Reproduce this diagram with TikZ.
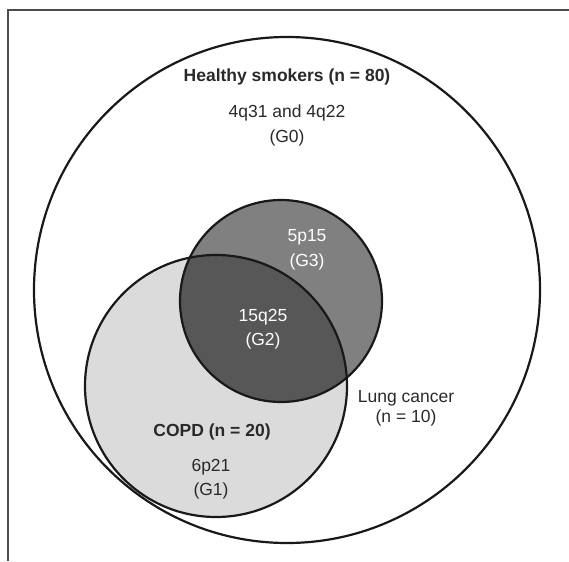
\documentclass[tikz,border=0pt]{standalone}
\usepackage{fontspec}
\setmainfont{Liberation Sans}
\definecolor{copdgray}{gray}{0.86}
\definecolor{lcgray}{gray}{0.50}
\definecolor{bothgray}{gray}{0.34}
\definecolor{txtgray}{gray}{0.16}
\tikzset{
  ring/.style={line width=2.2pt, draw=black!90},
  label/.style={font=\fontsize{17.5}{21}\selectfont, text=txtgray, inner sep=0pt, align=center},
  boldlabel/.style={label, font=\fontsize{17.5}{21}\selectfont\bfseries},
  whitelabel/.style={label, text=white}
}
\begin{document}
\begin{tikzpicture}[x=1pt, y=-1pt]
    \useasboundingbox (0,0) rectangle (569,561);

    % Frame
    \draw[line width=1.3pt, black!70] (8,561) -- (8,10) -- (569,10);

    % Fills
    \fill[copdgray] (216,386) circle (131);
    \fill[lcgray] (281,301) circle (101);
    \begin{scope}
        \clip (216,386) circle (131);
        \fill[bothgray] (281,301) circle (101);
    \end{scope}

    % Circles
    \draw[ring] (287,290) circle (253);
    \draw[ring] (216,386) circle (131);
    \draw[ring] (281,301) circle (101);

    % Healthy smokers
    \node[boldlabel] (hs) at (287,77) {Healthy smokers (n = 80)};
    \node[label] (g0a) at (287,113) {4q31 and 4q22};
    \node[label] (g0b) at (287,138) {(G0)};

    % Lung cancer
    \node[whitelabel] (g3a) at (307,237) {5p15};
    \node[whitelabel] (g3b) at (307,262) {(G3)};
    \node[label] (lc) at (406,398) {Lung cancer};
    \node[label] (lcn) at (406,418) {(n = 10)};

    % Overlap
    \node[whitelabel] (g2a) at (263,317) {15q25};
    \node[whitelabel] (g2b) at (263,341) {(G2)};

    % COPD
    \node[boldlabel] (copd) at (212,432) {COPD (n = 20)};
    \node[label] (g1a) at (211,467) {6p21};
    \node[label] (g1b) at (211,491) {(G1)};
\end{tikzpicture}
\end{document}
